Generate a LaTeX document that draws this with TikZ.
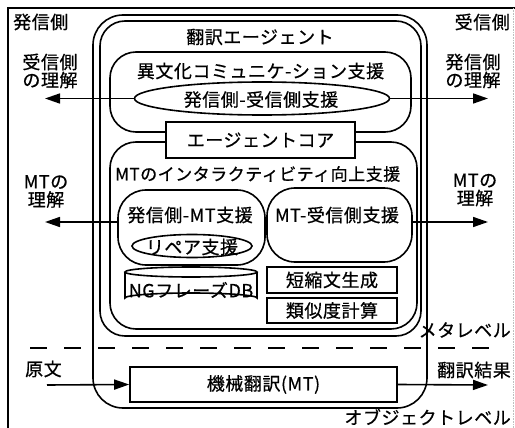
\documentclass[tikz,border=0pt]{standalone}
\usepackage{fontspec}
\setmainfont{Noto Sans CJK JP}[FakeBold=0.6, LetterSpace=3]
\usetikzlibrary{arrows.meta,shapes.geometric}
\begin{document}
\begin{tikzpicture}[x=1pt,y=-1pt,
  lbl/.style={font=\fontsize{18}{18}\selectfont, inner sep=0pt},
  frame/.style={draw, line width=1.6pt, inner sep=0pt},
  box/.style={frame, fill=white, font=\fontsize{18}{18}\selectfont},
  arr/.style={line width=1.6pt, -{Triangle[length=15pt,width=10pt]}},
]
\useasboundingbox (0,0) rectangle (515,428);
% page frame
\coordinate (fbl) at (8,428);
\coordinate (ftl) at (8,8);
\coordinate (ftr) at (515,8);
\coordinate (fbr) at (513.5,428);
\coordinate (ftr2) at (513.5,8);
\draw[line width=1.6pt] (fbl) -- (ftl) -- (ftr);
\draw[line width=0.6pt, gray!50, densely dotted] (ftr2) -- (fbr);

% agent containers
\node[frame, rounded corners=30pt, minimum width=334pt, minimum height=393pt] (agout) at (260,211.5) {};
\node[frame, rounded corners=25pt, minimum width=321pt, minimum height=315pt] (agin) at (260.5,178.5) {};
\node[lbl] (title) at (260,37) {翻訳エージェント};

% cross-cultural support
\node[frame, rounded corners=26pt, minimum width=301pt, minimum height=80pt] (cross) at (260.5,92) {};
\node[lbl] (crosst) at (260.5,71) {異文化コミュニケ-ション支援};
\node[frame, ellipse, minimum width=255pt, minimum height=33pt] (lens) at (262,98.5) {};
\node[lbl] (lenst) at (261,99.5) {発信側-受信側支援};

% interactivity support
\node[frame, rounded corners=26pt, minimum width=307pt, minimum height=187pt] (inter) at (263.5,235.5) {};
\node[box, minimum width=189pt, minimum height=36pt] (core) at (260.5,140) {エージェントコア};
\node[lbl, font=\fontsize{17}{17}\selectfont, anchor=west] (intert) at (115,174) {MTのインタラクティビティ向上支援};

\node[frame, rounded corners=28pt, minimum width=147pt, minimum height=75pt] (smt) at (191.5,227.5) {};
\node[lbl] (smtt) at (190,215) {発信側-MT支援};
\node[frame, rounded corners=28pt, minimum width=145pt, minimum height=74pt] (mtr) at (339.5,225) {};
\node[lbl] (mtrt) at (337,215) {MT-受信側支援};
\node[frame, ellipse, minimum width=120pt, minimum height=23pt] (rep) at (192,246) {};
\node[lbl] (rept) at (192,247) {リペア支援};

% NG phrase DB cylinder
\coordinate (ngtop) at (191,272);
\coordinate (ngtl) at (125,272);
\coordinate (ngbl) at (125,298);
\coordinate (ngbr) at (257,298);
\coordinate (ngtr) at (257,272);
\draw[line width=1.6pt] (ngtop) ellipse[x radius=66pt, y radius=5pt];
\draw[line width=1.6pt] (ngtl) -- (ngbl) arc[start angle=180, end angle=0, x radius=66pt, y radius=5pt] -- (ngtr);
\node[lbl] (ngt) at (191,290) {NGフレーズDB};

\node[box, minimum width=130pt, minimum height=26pt] (short) at (332,280) {短縮文生成};
\node[box, minimum width=130pt, minimum height=25pt] (sim) at (332,310.5) {類似度計算};

% machine translation
\node[box, minimum width=267pt, minimum height=35pt] (mt) at (263.5,384.5) {機械翻訳(MT)};

% side labels
\node[lbl, anchor=west] (sender) at (13,22) {発信側};
\node[lbl, anchor=east] (receiver) at (510,22) {受信側};
\node[lbl, align=center] (rund) at (50,71) {受信側\\の理解};
\node[lbl, align=center] (sund) at (473,71) {発信側\\の理解};
\node[lbl, align=center] (mtul) at (46,191.5) {MTの\\理解};
\node[lbl, align=center] (mtur) at (475,190) {MTの\\理解};
\node[lbl, anchor=east] (meta) at (511,330) {メタレベル};
\node[lbl, anchor=west] (src) at (25,369) {原文};
\node[lbl, anchor=east] (res) at (511,370) {翻訳結果};
\node[lbl, anchor=east] (obj) at (511,417) {オブジェクトレベル};

% dashed level separator
\coordinate (dl) at (30,348);
\coordinate (dr) at (492,348);
\draw[line width=1.6pt, dash pattern=on 17pt off 17pt] (dl) -- (dr);

% arrows
\coordinate (a1l) at (45,98.5);
\coordinate (a1r) at (488,98.5);
\coordinate (a2l) at (45,222);
\coordinate (a2r) at (488,222);
\coordinate (a3l) at (47,385);
\coordinate (a3r) at (488,385);
\draw[arr] (lens.west) -- (a1l);
\draw[arr] (lens.east) -- (a1r);
\draw[arr] (smt.west |- a2l) -- (a2l);
\draw[arr] (mtr.east |- a2r) -- (a2r);
\draw[arr] (a3l) -- (mt.west);
\draw[arr] (mt.east) -- (a3r);
\end{tikzpicture}
\end{document}
